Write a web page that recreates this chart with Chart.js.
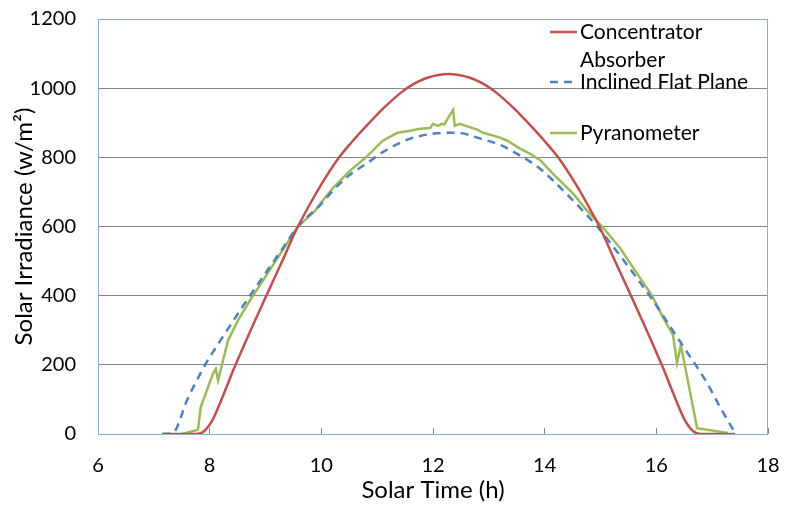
<!DOCTYPE html>
<html>
<head>
<meta charset="utf-8">
<script src="https://cdn.jsdelivr.net/npm/chart.js@4.4.1/dist/chart.umd.min.js"></script>
<style>
  html, body { margin: 0; padding: 0; background: #fff; }
</style>
</head>
<body>
<canvas id="irradiance" width="785" height="513"></canvas>
<script>
// Concentrator absorber (solar time h / irradiance W/m2)
const concTime = [7.15, 7.77, 7.9, 8.05, 8.2, 8.45, 8.72, 9.0, 9.3, 9.55, 9.78, 10.0, 10.3, 10.55, 10.82, 11.1, 11.41, 11.59, 11.9, 12.28, 12.66, 12.97, 13.15, 13.46, 13.74, 14.01, 14.26, 14.56, 14.78, 15.01, 15.26, 15.56, 15.84, 16.11, 16.36, 16.51, 16.66, 16.79, 17.41];
const concIrr = [0, 0, 8, 40, 95, 195, 295, 395, 500, 590, 660, 722, 796, 845, 893, 940, 985, 1006, 1030, 1041, 1030, 1006, 985, 940, 893, 845, 796, 722, 660, 590, 500, 395, 295, 195, 95, 40, 8, 0, 0];

// Inclined flat plane
const flatTime = [7.15, 7.34, 7.6, 7.92, 8.2, 8.63, 9.0, 9.3, 9.58, 9.98, 10.21, 10.5, 10.82, 11.1, 11.41, 11.59, 11.9, 12.25, 12.5, 12.79, 13.2, 13.56, 13.92, 14.15, 14.51, 14.94, 15.35, 15.94, 16.25, 16.55, 16.91, 17.14, 17.41];
const flatIrr = [0, 3, 100, 200, 272, 378, 465, 535, 600, 662, 704, 748, 783, 815, 842, 854, 866, 871, 870, 857, 836, 805, 767, 733, 675, 600, 516, 386, 310, 237, 147, 78, 3];

// Pyranometer readings
const pyrTime = [7.5, 7.79, 7.84, 8.06, 8.11, 8.15, 8.19, 8.33, 8.51, 8.72, 9.0, 9.3, 9.58, 9.89, 9.98, 10.21, 10.51, 10.8, 11.1, 11.36, 11.59, 11.77, 11.95, 12.0, 12.09, 12.16, 12.2, 12.36, 12.39, 12.48, 12.79, 12.9, 13.2, 13.33, 13.56, 13.74, 13.92, 14.15, 14.51, 14.76, 15.03, 15.35, 15.56, 15.92, 16.1, 16.3, 16.32, 16.37, 16.44, 16.73, 17.28];
const pyrIrr = [0, 12, 78, 175, 188, 155, 180, 271, 329, 386, 455, 530, 600, 646, 666, 712, 761, 800, 848, 871, 877, 883, 885, 897, 891, 897, 895, 937, 891, 897, 880, 871, 857, 848, 825, 810, 792, 752, 695, 646, 600, 538, 487, 401, 343, 286, 262, 205, 257, 17, 3];

const xTicks = [6, 8, 10, 12, 14, 16, 18];
const seriesNames = ['Concentrator Absorber', 'Inclined Flat Plane', 'Pyranometer'];

const FONT = 'Lato';
const toPoints = (xs, ys) => xs.map((x, i) => ({ x: x, y: ys[i] }));

// plot frame drawn under the lines
const frame = {
    id: 'frame',
    beforeDatasetsDraw(chart) {
        const { ctx, chartArea: a } = chart;
        ctx.save();
        ctx.strokeStyle = '#8FA9CC';
        ctx.lineWidth = 1;
        ctx.strokeRect(a.left + 0.5, a.top + 0.5, a.right - a.left - 1, a.bottom - a.top);
        ctx.restore();
    }
};

// legend sits inside the plot, top right
const insideLegend = {
    id: 'insideLegend',
    afterDatasetsDraw(chart, args, opts) {
        const { ctx } = chart;
        ctx.save();
        ctx.font = opts.fontSize + 'px ' + FONT;
        ctx.textBaseline = 'middle';
        ctx.fillStyle = '#000';
        opts.rows.forEach((row, i) => {
            const ds = chart.data.datasets[i];
            ctx.strokeStyle = ds.borderColor;
            ctx.lineWidth = ds.borderWidth;
            ctx.setLineDash(ds.borderDash || []);
            ctx.beginPath();
            ctx.moveTo(opts.x, row.y);
            ctx.lineTo(opts.x + opts.sample, row.y);
            ctx.stroke();
            ctx.setLineDash([]);
            row.lines.forEach((t, j) => ctx.fillText(t, opts.x + opts.sample + 3, row.y + j * row.lead));
        });
        ctx.restore();
    }
};

new Chart(document.getElementById('irradiance'), {
    type: 'line',
    data: {
        datasets: [{
            label: seriesNames[0],
            data: toPoints(concTime, concIrr),
            borderColor: '#C0504D',
            borderWidth: 2.5,
            pointRadius: 0,
            cubicInterpolationMode: 'monotone'
        }, {
            label: seriesNames[1],
            data: toPoints(flatTime, flatIrr),
            borderColor: '#4F81BD',
            borderWidth: 2.5,
            borderDash: [8, 6],
            pointRadius: 0,
            cubicInterpolationMode: 'monotone'
        }, {
            label: seriesNames[2],
            data: toPoints(pyrTime, pyrIrr),
            borderColor: '#9BBB59',
            borderWidth: 2.5,
            pointRadius: 0,
            tension: 0
        }]
    },
    options: {
        responsive: false,
        animation: false,
        layout: { padding: { top: 19, right: 17, left: 0, bottom: 0 } },
        plugins: {
            legend: { display: false },
            tooltip: { enabled: false },
            insideLegend: {
                x: 550,
                sample: 27,
                fontSize: 21,
                rows: [
                    { lines: ['Concentrator', 'Absorber'], y: 32, lead: 28 },
                    { lines: ['Inclined Flat Plane'], y: 82, lead: 0 },
                    { lines: ['Pyranometer'], y: 133, lead: 0 }
                ]
            }
        },
        scales: {
            x: {
                type: 'linear',
                min: 6,
                max: 18,
                afterBuildTicks: scale => { scale.ticks = xTicks.map(v => ({ value: v })); },
                afterFit: scale => {
                    scale.height = 79;
                    scale.paddingLeft = 0;
                    scale.paddingRight = 0;
                },
                grid: { drawOnChartArea: false, drawTicks: true, tickLength: -6, color: '#868686' },
                border: { display: false },
                ticks: { color: '#000', padding: 26, maxRotation: 0, font: { family: FONT, size: 20 } },
                title: {
                    display: true,
                    text: 'Solar Time (h)',
                    color: '#000',
                    font: { family: FONT, size: 24 },
                    padding: { top: 0, bottom: 8 }
                }
            },
            y: {
                min: 0,
                max: 1200,
                afterFit: scale => {
                    scale.width = 98;
                    scale.paddingTop = 0;
                    scale.paddingBottom = 0;
                },
                grid: { color: '#868686', drawTicks: false },
                border: { display: false },
                ticks: {
                    stepSize: 200,
                    color: '#000',
                    padding: 22,
                    font: { family: FONT, size: 20 },
                    callback: v => String(v)
                },
                title: {
                    display: true,
                    text: 'Solar Irradiance (w/m²)',
                    color: '#000',
                    font: { family: FONT, size: 24 },
                    padding: { top: 10, bottom: 0 }
                }
            }
        }
    },
    plugins: [frame, insideLegend]
});
</script>
</body>
</html>
